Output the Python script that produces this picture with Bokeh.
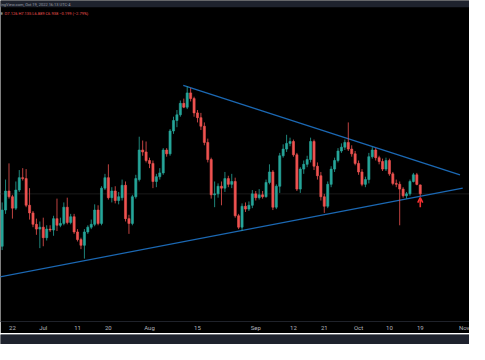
import pandas as pd
from bokeh.plotting import figure
from bokeh.models import (ColumnDataSource, Span, BoxAnnotation, Label, Arrow,
                          OpenHead, FixedTicker, CustomJSTickFormatter, Range1d)
from bokeh.layouts import column
from bokeh.embed import file_html
from bokeh.resources import INLINE

# ---------------- data (daily candles) ----------------
start_date = "2022-06-19"
opens = [5.838, 6.598, 6.998, 6.878, 6.638, 7.018, 7.278, 7.258, 6.698, 6.538,
         6.298, 6.198, 6.238, 6.018, 6.198, 6.178, 6.418, 6.278, 6.318, 6.658,
         6.338, 6.458, 6.138, 5.978, 5.858, 6.138, 6.238, 6.298, 6.598, 6.318,
         7.058, 7.278, 6.858, 6.998, 6.798, 6.858, 7.118, 6.418, 6.318, 6.878,
         7.238, 7.858, 7.818, 7.638, 7.578, 7.198, 7.298, 7.378, 7.858, 7.778,
         8.258, 8.478, 8.598, 8.838, 8.758, 9.058, 8.938, 8.638, 8.538, 8.358,
         8.018, 7.658, 6.918, 6.938, 7.098, 7.058, 7.258, 7.138, 7.198, 6.478,
         6.238, 6.678, 6.618, 6.698, 6.938, 6.858, 6.918, 6.878, 7.178, 7.398,
         6.658, 7.098, 7.738, 7.878, 7.998, 8.038, 7.758, 7.038, 7.458, 7.558,
         7.658, 8.038, 7.518, 7.318, 6.878, 6.678, 7.138, 7.458, 7.638, 7.838,
         7.918, 8.018, 7.878, 7.778, 7.578, 7.398, 7.138, 7.238, 7.718, 7.858,
         7.698, 7.618, 7.458, 7.638, 7.358, 7.158, 7.138, 7.038, 6.898, 6.938,
         7.198, 7.338, 7.126]
highs = [6.758, 7.238, 7.578, 6.918, 7.198, 7.438, 7.478, 7.458, 7.058, 6.578,
         6.418, 6.358, 6.438, 6.278, 6.278, 6.478, 6.838, 6.438, 6.758, 6.858,
         6.518, 6.518, 6.198, 6.018, 6.198, 6.278, 6.398, 6.718, 6.698, 7.098,
         7.358, 7.558, 7.078, 7.098, 6.978, 7.238, 7.198, 6.498, 6.918, 7.338,
         8.138, 8.058, 8.038, 7.698, 7.638, 7.358, 7.478, 7.898, 7.898, 8.298,
         8.558, 8.698, 8.898, 8.938, 9.198, 9.158, 8.978, 8.698, 8.638, 8.438,
         8.098, 7.698, 7.198, 7.158, 7.198, 7.398, 7.318, 7.358, 7.278, 6.518,
         6.738, 6.758, 6.778, 7.018, 6.998, 7.038, 6.998, 7.238, 7.558, 7.438,
         7.138, 7.798, 7.978, 8.178, 8.118, 8.078, 7.798, 7.498, 7.638, 7.738,
         8.118, 8.078, 7.598, 7.398, 6.938, 7.198, 7.518, 7.698, 7.898, 7.998,
         8.078, 8.438, 7.958, 7.838, 7.638, 7.458, 7.298, 7.798, 7.918, 7.898,
         7.738, 7.678, 7.698, 7.678, 7.398, 7.238, 7.198, 7.078, 6.978, 7.238,
         7.378, 7.378, 7.135]
lows = [5.758, 6.518, 6.838, 6.418, 6.598, 6.978, 7.218, 6.658, 6.398, 6.238,
        6.078, 5.798, 5.838, 5.958, 6.138, 6.058, 6.158, 6.238, 6.278, 6.298,
        6.298, 6.098, 5.938, 5.778, 5.578, 6.098, 6.198, 6.258, 6.278, 6.278,
        7.018, 6.818, 6.758, 6.738, 6.718, 6.798, 6.358, 6.098, 6.278, 6.838,
        7.198, 7.738, 7.598, 7.478, 7.058, 7.078, 7.238, 7.338, 7.718, 7.738,
        8.198, 8.338, 8.558, 8.738, 8.718, 8.878, 8.558, 8.438, 8.278, 7.958,
        7.598, 6.838, 6.658, 6.858, 6.698, 6.978, 7.078, 7.058, 6.438, 6.198,
        6.158, 6.558, 6.578, 6.638, 6.798, 6.818, 6.838, 6.858, 7.138, 6.598,
        6.618, 6.958, 7.698, 7.818, 7.938, 7.718, 6.998, 6.958, 7.358, 7.498,
        7.598, 7.438, 7.238, 6.798, 6.538, 6.638, 7.078, 7.398, 7.598, 7.798,
        7.858, 7.838, 7.718, 7.538, 7.338, 7.098, 7.078, 7.158, 7.678, 7.638,
        7.558, 7.418, 7.418, 7.318, 7.118, 7.078, 6.278, 6.858, 6.838, 6.898,
        7.178, 7.118, 6.889]
closes = [6.598, 6.998, 6.878, 6.638, 7.018, 7.278, 7.258, 6.698, 6.538, 6.298,
          6.198, 6.238, 6.018, 6.198, 6.178, 6.418, 6.278, 6.318, 6.658, 6.338,
          6.458, 6.138, 5.978, 5.858, 6.138, 6.238, 6.298, 6.598, 6.318, 7.058,
          7.278, 6.858, 6.998, 6.798, 6.878, 7.118, 6.418, 6.318, 6.878, 7.258,
          7.858, 7.818, 7.638, 7.578, 7.198, 7.298, 7.378, 7.858, 7.778, 8.258,
          8.478, 8.598, 8.838, 8.758, 9.058, 8.938, 8.638, 8.538, 8.358, 8.018,
          7.658, 6.918, 6.938, 7.098, 7.058, 7.258, 7.138, 7.198, 6.478, 6.238,
          6.678, 6.618, 6.698, 6.938, 6.858, 6.918, 6.878, 7.178, 7.398, 6.658,
          7.098, 7.738, 7.878, 7.998, 8.038, 7.758, 7.038, 7.458, 7.558, 7.658,
          8.038, 7.518, 7.318, 6.878, 6.678, 7.138, 7.458, 7.638, 7.838, 7.918,
          8.018, 7.878, 7.778, 7.578, 7.398, 7.138, 7.238, 7.718, 7.858, 7.698,
          7.618, 7.458, 7.638, 7.358, 7.158, 7.138, 7.038, 6.898, 6.938, 7.198,
          7.338, 7.137, 6.938]

tick_dates = ["2022-06-22", "2022-07-01", "2022-07-11", "2022-07-20", "2022-08-01",
              "2022-08-15", "2022-09-01", "2022-09-12", "2022-09-21", "2022-10-01",
              "2022-10-10", "2022-10-19", "2022-11-01"]
tick_labels = ["22", "Jul", "11", "20", "Aug", "15", "Sep", "12", "21", "Oct",
               "10", "19", "Nov"]

upper_trend_dates = ["2022-08-10 20:24", "2022-10-30 14:24"]
upper_trend_prices = [9.218, 7.338]
lower_trend_dates = ["2022-06-18 00:00", "2022-10-31 09:36"]
lower_trend_prices = [5.191, 7.058]

header_text = "ingView.com, Oct 19, 2022 16:13 UTC-4"
symbol_tail = "E"

# ---------------- styles ----------------
UP = "#26a69a"
DOWN = "#ef5350"
TREND = "#1b68b3"
ARROW = "#f23030"
BG = "#000000"
PANEL = "#1e222d"
DAY = 86400000.0

dates = pd.date_range(start_date, periods=len(opens), freq="D")
colors = [UP if c >= o else DOWN for o, c in zip(opens, closes)]
tops, bots = [], []
for o, c in zip(opens, closes):
    t, b = max(o, c), min(o, c)
    if t - b < 0.02:
        m = (t + b) / 2
        t, b = m + 0.01, m - 0.01
    tops.append(t)
    bots.append(b)

src = ColumnDataSource(dict(date=dates, open=opens, high=highs, low=lows,
                            close=closes, top=tops, bottom=bots, color=colors))

t0 = dates[0].value / 1e6
x_start = t0 - 0.48 * DAY
x_end = t0 + 136.37 * DAY
y_lo, y_hi = 4.258, 10.998

p = figure(width=469, height=333, x_axis_type="datetime", y_axis_location=None,
           x_range=Range1d(x_start, x_end), y_range=Range1d(y_lo, y_hi),
           output_backend="svg", toolbar_location=None,
           background_fill_color=BG, border_fill_color=BG,
           min_border_left=0, min_border_right=0, min_border_top=0,
           min_border_bottom=11, outline_line_color=None)
p.grid.visible = False

# header strip
p.add_layout(BoxAnnotation(bottom=10.858, fill_color=PANEL, fill_alpha=1.0,
                           line_color=None, level="underlay"))

# last price line (very faint)
p.add_layout(Span(location=closes[-1], dimension="width", line_color="#1a1a1a",
                  line_width=1, level="underlay"))

# trend lines
p.line(x=pd.to_datetime(upper_trend_dates), y=upper_trend_prices,
       line_color=TREND, line_width=1.3)
p.line(x=pd.to_datetime(lower_trend_dates), y=lower_trend_prices,
       line_color=TREND, line_width=1.3)

# candles
p.segment(x0="date", y0="low", x1="date", y1="high", line_color="color",
          line_width=1, line_alpha=0.8, source=src)
p.vbar(x="date", width=0.62 * DAY, top="top", bottom="bottom",
       fill_color="color", line_color="color", line_width=0.6, source=src)

# arrow under last candle
last_x = dates[-1].value / 1e6
p.add_layout(Arrow(end=OpenHead(size=5, line_color=ARROW, line_width=1.6),
                   x_start=last_x, y_start=lows[-1] - 0.23,
                   x_end=last_x, y_end=lows[-1] - 0.03,
                   line_color=ARROW, line_width=1.6))

# header texts
prev = closes[-2]
chg = closes[-1] - prev
pct = chg / prev * 100
ohlc = "O{:.3f} H{:.3f} L{:.3f} C{:.3f} {}{:.3f} ({}{:.2f}%)".format(
    opens[-1], highs[-1], lows[-1], closes[-1],
    "\u2212" if chg < 0 else "+", abs(chg), "\u2212" if pct < 0 else "+", abs(pct))
p.add_layout(Label(x=x_start + 0.05 * DAY, y=10.924, text=header_text,
                   text_font="Roboto", text_font_size="4px", text_color="#9a9ea8",
                   text_baseline="middle"))
p.add_layout(Label(x=x_start + 0.05 * DAY, y=10.732, text=symbol_tail,
                   text_font="Roboto", text_font_size="4px", text_color="#d1d4dc",
                   text_baseline="middle"))
p.add_layout(Label(x=x_start + 1.2 * DAY, y=10.732, text=ohlc,
                   text_font="Roboto", text_font_size="4px", text_color=DOWN,
                   text_baseline="middle"))

# x axis
tick_ms = [pd.Timestamp(d).value / 1e6 for d in tick_dates]
ax = p.xaxis[0]
ax.ticker = FixedTicker(ticks=tick_ms)
ax.formatter = CustomJSTickFormatter(
    args=dict(tick_vals=tick_ms, tick_names=tick_labels),
    code="const i = tick_vals.indexOf(tick); return i >= 0 ? tick_names[i] : '';")
ax.axis_line_color = "#1f222a"
ax.major_tick_line_color = None
ax.minor_tick_line_color = None
ax.major_tick_out = 0
ax.major_tick_in = 0
ax.major_label_standoff = 2
ax.major_label_text_color = "#b2b5be"
ax.major_label_text_font = "Roboto"
ax.major_label_text_font_size = "6px"

# bottom panel strip
strip = figure(width=469, height=11, output_backend="svg", toolbar_location=None,
               x_axis_location=None, y_axis_location=None,
               x_range=Range1d(0, 1), y_range=Range1d(0, 1),
               background_fill_color=PANEL, border_fill_color=PANEL,
               outline_line_color=None, min_border=0)
strip.grid.visible = False
strip.add_layout(BoxAnnotation(fill_color=PANEL, fill_alpha=1.0, line_color=None))

layout = column(p, strip, spacing=0)
open("out.html", "w").write(file_html(layout, INLINE))
